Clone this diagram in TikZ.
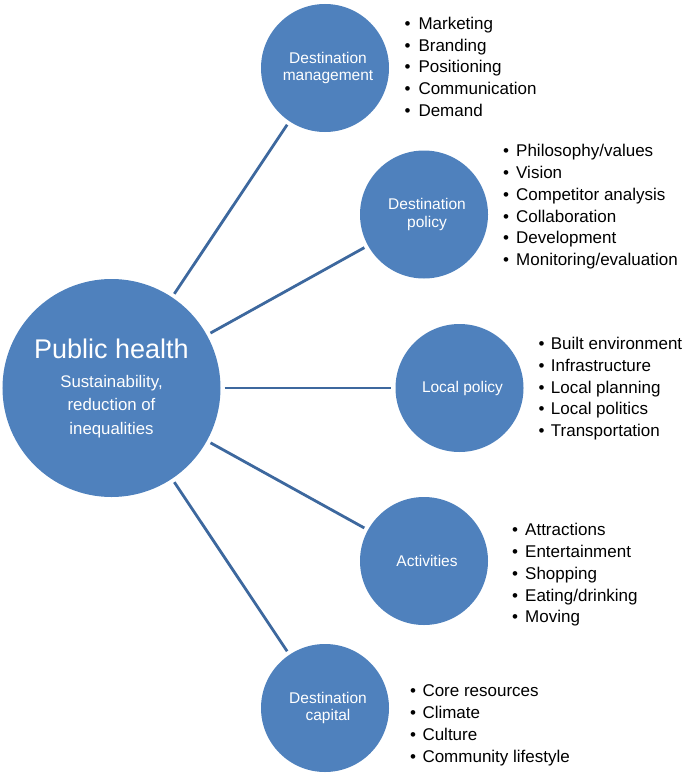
\documentclass[tikz,border=0pt]{standalone}
\usepackage{fontspec}
\setmainfont{Liberation Sans}
\definecolor{cfill}{RGB}{79,129,189}
\definecolor{cline}{RGB}{61,104,158}
\newcommand{\mylist}[5]{%
  \foreach \t [count=\i from 0] in {#5} {
    \node[bul] (#1b\i) at (#2, #4+21.85*\i) {\textbullet};
    \node[item] (#1t\i) at (#3, #4+21.85*\i) {\t};
  }}
\begin{document}
\begin{tikzpicture}[x=1bp,y=-1bp,
  bigc/.style={circle, fill=cfill, minimum size=218bp, inner sep=0pt},
  smallc/.style={circle, fill=cfill, minimum size=128bp, inner sep=0pt},
  clabel/.style={text=white, align=center, inner sep=0pt, xshift=3bp,
     font=\fontsize{15.5bp}{17.5bp}\selectfont},
  conn/.style={draw=cline, line width=2.8bp, shorten >=4bp, shorten <=4bp},
  bul/.style={anchor=base, inner sep=0pt, font=\fontsize{17bp}{20bp}\selectfont},
  item/.style={anchor=base west, inner sep=0pt, font=\fontsize{17bp}{20bp}\selectfont},
  sub/.style={anchor=base, text=white, inner sep=0pt, font=\fontsize{16.8bp}{20bp}\selectfont}]
\useasboundingbox (0,0) rectangle (682,776);
\node[bigc] (ph) at (111.5,388) {};
\node[anchor=base, text=white, inner sep=0pt, font=\fontsize{27bp}{30bp}\selectfont] (pht) at (111.5,358.3) {Public health};
\node[sub] (phs1) at (111.5,387.3) {Sustainability,};
\node[sub] (phs2) at (111.5,410.8) {reduction of};
\node[sub] (phs3) at (111.5,434.3) {inequalities};
\node[smallc] (dm) at (325,68) {};
\node[smallc] (dp) at (424,214.5) {};
\node[smallc] (lp) at (459.5,388) {};
\node[smallc] (act) at (424,561) {};
\node[smallc] (dc) at (325,708) {};
\node[clabel] (dml) at (dm) {Destination\\management};
\node[clabel] (dpl) at (dp) {Destination\\policy};
\node[clabel] (lpl) at (lp) {Local policy};
\node[clabel] (actl) at (act) {Activities};
\node[clabel] (dcl) at (dc) {Destination\\capital};
\draw[conn] (ph) -- (dm);
\draw[conn] (ph) -- (dp);
\draw[conn] (ph) -- (lp);
\draw[conn] (ph) -- (act);
\draw[conn] (ph) -- (dc);
\mylist{dm}{407.5}{418.3}{29.3}{Marketing,Branding,Positioning,Communication,Demand}
\mylist{dp}{506}{516}{156.5}{Philosophy/values,Vision,Competitor analysis,Collaboration,Development,Monitoring/evaluation}
\mylist{lp}{541.7}{550.7}{349.3}{Built environment,Infrastructure,Local planning,Local politics,Transportation}
\mylist{ac}{515}{525}{535.5}{Attractions,Entertainment,Shopping,Eating/drinking,Moving}
\mylist{dc}{413}{422.3}{696.7}{Core resources,Climate,Culture,Community lifestyle}
\end{tikzpicture}
\end{document}
